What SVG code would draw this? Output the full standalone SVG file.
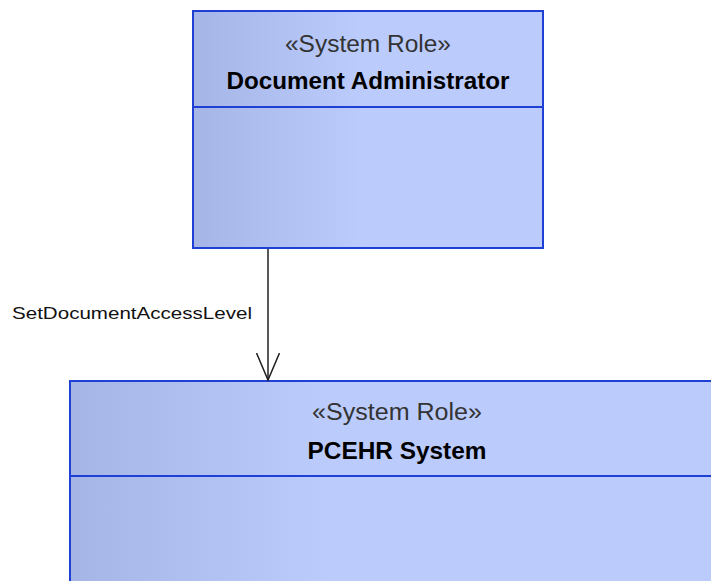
<svg xmlns="http://www.w3.org/2000/svg" width="711" height="581" viewBox="0 0 711 581">
<defs>
<linearGradient id="g1" gradientUnits="userSpaceOnUse" x1="192" y1="0" x2="362" y2="0">
<stop offset="0" stop-color="#a5b5e6"/>
<stop offset="1" stop-color="#bbccfc"/>
</linearGradient>
<linearGradient id="g2" gradientUnits="userSpaceOnUse" x1="70" y1="0" x2="325" y2="0">
<stop offset="0" stop-color="#a5b5e6"/>
<stop offset="1" stop-color="#bbccfc"/>
</linearGradient>
<marker id="open" markerUnits="userSpaceOnUse" markerWidth="30" markerHeight="30" refX="27" refY="12" orient="auto">
<path d="M0,0.5 L27,12 L0,23.5" fill="none" stroke="#202020" stroke-width="1.5"/>
</marker>
</defs>
<style>
.box{stroke:#1f40d4;stroke-width:2}
.div{stroke:#1f40d4;stroke-width:2}
.st{font-family:"Liberation Sans",Arial,sans-serif;font-size:23px;fill:#333333;text-anchor:middle}
.nm{font-family:"Liberation Sans",Arial,sans-serif;font-size:24px;font-weight:bold;fill:#000;text-anchor:middle}
.lb{font-family:"Liberation Sans",Arial,sans-serif;font-size:17px;fill:#111}
</style>
<rect width="711" height="581" fill="#ffffff"/>
<g id="document-administrator">
<rect class="box" x="193" y="11" width="350" height="237" fill="url(#g1)"/>
<line class="div" x1="193" y1="107" x2="543" y2="107"/>
<text class="st" x="368" y="52" textLength="166" lengthAdjust="spacingAndGlyphs">«System Role»</text>
<text class="nm" x="368" y="89" textLength="283" lengthAdjust="spacingAndGlyphs">Document Administrator</text>
</g>
<g id="pcehr-system">
<rect class="box" x="70" y="381" width="660" height="220" fill="url(#g2)"/>
<line class="div" x1="70" y1="476" x2="711" y2="476"/>
<text class="st" x="397" y="420" textLength="170" lengthAdjust="spacingAndGlyphs">«System Role»</text>
<text class="nm" x="397" y="459" textLength="179" lengthAdjust="spacingAndGlyphs">PCEHR System</text>
</g>
<g id="connectors">
<line x1="268" y1="249" x2="268" y2="380" stroke="#202020" stroke-width="1.5" marker-end="url(#open)"/>
<text class="lb" x="12" y="319" textLength="240" lengthAdjust="spacingAndGlyphs">SetDocumentAccessLevel</text>
</g>
</svg>
